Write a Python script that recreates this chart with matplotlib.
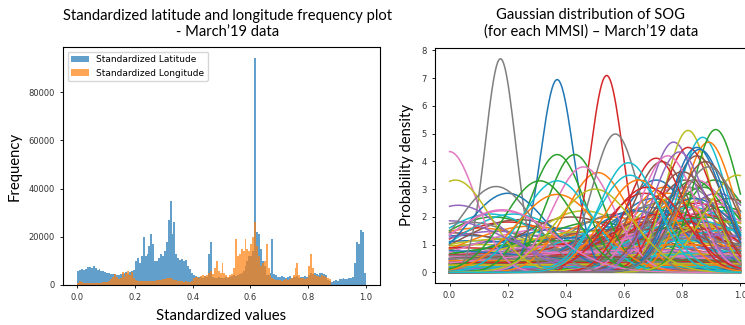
import numpy as np
import matplotlib
matplotlib.use("Agg")
import matplotlib.pyplot as plt

# histogram counts, 150 equal bins on [0, 1]
lat_counts = [
    5800, 6200, 6600, 6400, 6800, 7600, 7400, 7200, 8000, 7000, 6400, 6800, 6000, 5600, 5200,
    5000, 4800, 4600, 4400, 4600, 4200, 4000, 4600, 4400, 5000, 5200, 4600, 5400, 6000, 6400,
    10000, 11000, 9000, 12000, 20000, 12000, 13000, 16000, 21000, 17000, 10000, 10000, 11000, 13000, 12000,
    14000, 18000, 27000, 35000, 21000, 26000, 13000, 11000, 10500, 10800, 10000, 10500, 8000, 6500, 5000,
    4000, 3600, 3400, 3200, 3400, 3000, 3800, 3400, 13000, 18000, 3200, 3000, 2800, 3200, 3000,
    3000, 2800, 3200, 3000, 3400, 3600, 4000, 3800, 4200, 4400, 5000, 6000, 8000, 10000, 12000,
    12000, 14000, 94000, 22000, 21000, 15000, 10000, 8000, 4000, 4200, 5000, 19000, 4500, 4000, 3500,
    3400, 3600, 3200, 3000, 3400, 3600, 3000, 3200, 3400, 3600, 3000, 3200, 3400, 3600, 3200,
    4000, 5000, 4400, 4800, 4600, 4200, 4800, 5000, 4400, 4200, 2000, 1500, 1400, 1600, 2000,
    1800, 2400, 2600, 2800, 2400, 2600, 2800, 3000, 3200, 9000, 18000, 17000, 23000, 22000, 5000,
]
lon_counts = [
    800, 1500, 1200, 1000, 900, 800, 900, 1000, 800, 900, 1000, 900, 1000, 1100, 1200,
    1400, 1800, 2500, 3500, 4500, 3500, 2600, 3000, 5500, 3500, 5000, 6000, 4000, 5500, 3000,
    2000, 1800, 1600, 1500, 1600, 1800, 1700, 1600, 1500, 1600, 1800, 2000, 2200, 2000, 2400,
    2600, 2800, 3000, 2800, 2400, 2200, 2000, 1800, 1600, 1500, 1400, 1500, 1400, 1300, 1500,
    3000, 3200, 3400, 3000, 3600, 4000, 3800, 4200, 5000, 6000, 4500, 7000, 10000, 6000, 5000,
    9000, 5000, 4000, 3500, 4000, 4500, 7000, 19000, 12000, 13000, 15000, 14000, 19000, 15000, 14000,
    17000, 20000, 26000, 16000, 12000, 8000, 9000, 10000, 17000, 7000, 4000, 3000, 2500, 2200, 2000,
    2000, 1800, 2200, 2500, 2000, 2400, 3000, 4000, 7000, 9000, 4000, 3000, 2800, 2600, 3000,
    8000, 13000, 7000, 4000, 3600, 3800, 3500, 4000, 3600, 3400, 3000, 2500, 0, 0, 0,
    0, 0, 0, 0, 0, 0, 0, 0, 0, 0, 0, 0, 0, 0, 0,
]

# gaussian fits of SOG per MMSI: means and std devs
sog_mu = [
    0.05, 0.10, 0.15, 0.20, 0.25, 0.00, 0.18, 0.30, 0.12, 0.22,
    0.08, 0.28, 0.35, 0.02, 0.16, 0.24, 0.32, 0.06, 0.20, 0.14,
    0.40, 0.45, 0.50, 0.55, 0.48, 0.42, 0.58, 0.52, 0.46, 0.60,
    0.44, 0.56, 0.38, 0.62, 0.50, 0.54, 0.40, 0.58, 0.47, 0.65,
    0.70, 0.75, 0.80, 0.85, 0.90, 0.72, 0.78, 0.82, 0.88, 0.95,
    0.68, 0.74, 0.84, 0.86, 0.92, 0.76, 0.80, 0.66, 0.98, 0.83,
    0.71, 0.79, 0.87, 0.93, 0.69, 0.81, 0.89, 0.77, 0.73, 1.00,
    0.85, 0.75, 0.91, 0.67, 0.83, 0.96, 0.79, 0.72, 0.88, 0.81,
    0.84, 0.70, 0.94, 0.78, 0.86, 0.74, 0.90, 0.82, 0.76, 0.97,
    0.64, 0.80, 0.87, 0.73, 0.92, 0.68, 0.85, 0.78, 0.95, 0.83,
    0.50, 0.30, 0.70, 0.20, 0.90, 0.60, 0.40, 0.10, 0.80, 1.10,
    -0.10, 0.50, 0.75, 0.25, 0.95, 0.35, 0.65, 0.05, 0.85, 0.45,
    0.37, 0.51, 0.37, 0.54, 0.77, 0.73, 0.00, 0.175, 0.82, 0.87,
    0.20, 0.89, 0.43, 0.82, 0.03, 0.85, 0.46, 0.57, 0.02, 0.37,
    0.85, 0.37, 0.915, 0.71, 0.00, 0.80, 0.75, 0.16, 0.99, 0.62,
    0.86, 0.65, 0.31, 0.68, 0.79, 0.88, 0.18, 0.89, 0.50, 0.615,
]
sog_sigma = [
    0.30, 0.25, 0.20, 0.22, 0.35, 0.28, 0.18, 0.30, 0.40, 0.19,
    0.35, 0.24, 0.40, 0.45, 0.27, 0.21, 0.26, 0.22, 0.33, 0.19,
    0.25, 0.30, 0.22, 0.35, 0.40, 0.20, 0.28, 0.45, 0.18, 0.24,
    0.32, 0.20, 0.35, 0.30, 0.50, 0.26, 0.42, 0.19, 0.27, 0.40,
    0.15, 0.18, 0.14, 0.16, 0.20, 0.22, 0.13, 0.25, 0.15, 0.18,
    0.17, 0.13, 0.12, 0.19, 0.14, 0.28, 0.20, 0.24, 0.22, 0.17,
    0.12, 0.16, 0.13, 0.25, 0.30, 0.12, 0.18, 0.21, 0.35, 0.30,
    0.22, 0.14, 0.12, 0.14, 0.30, 0.15, 0.26, 0.16, 0.24, 0.35,
    0.15, 0.20, 0.17, 0.19, 0.28, 0.25, 0.16, 0.13, 0.15, 0.26,
    0.18, 0.40, 0.20, 0.19, 0.30, 0.22, 0.12, 0.33, 0.22, 0.21,
    0.80, 0.90, 1.00, 0.60, 0.70, 1.20, 0.55, 0.65, 0.60, 0.50,
    0.50, 1.50, 0.90, 1.10, 0.45, 0.70, 0.50, 0.80, 1.30, 2.00,
    0.0574, 0.111, 0.094, 0.0562, 0.085, 0.10, 0.0917, 0.0518, 0.078, 0.082,
    0.14, 0.085, 0.094, 0.0886, 0.165, 0.095, 0.105, 0.080, 0.12, 0.121,
    0.0886, 0.142, 0.0775, 0.097, 0.215, 0.11, 0.095, 0.129, 0.114, 0.114,
    0.09, 0.12, 0.121, 0.13, 0.092, 0.10, 0.177, 0.105, 0.133, 0.101,
]

fig = plt.figure(figsize=(7.45, 3.25), dpi=100)
W, H = 745.0, 325.0
title_font = ["Lato", "DejaVu Sans"]

# left: frequency histogram
ax1 = fig.add_axes([63 / W, 40 / H, 317 / W, 238 / H])
edges = np.linspace(0, 1, len(lat_counts) + 1)
ax1.hist(edges[:-1], bins=edges, weights=lat_counts, alpha=0.7, label="Standardized Latitude")
ax1.hist(edges[:-1], bins=edges, weights=lon_counts, alpha=0.7, label="Standardized Longitude")
ax1.legend(loc="upper left", fontsize=6.5)
ax1.tick_params(labelsize=6, length=2.5, width=0.6, labelcolor="#333333")
ax1.set_ylabel("Frequency", fontsize=10.7, family=title_font, labelpad=5)
ax1.set_xlabel("Standardized values", fontsize=10.7, family=title_font, labelpad=5)
fig.text(228 / W, 1 - 24 / H, "Standardized latitude and longitude frequency plot\n- March\u201919 data",
         ha="center", va="center", fontsize=10.6, family=title_font, linespacing=1.2)

# right: gaussian curves
ax2 = fig.add_axes([435 / W, 42 / H, 320 / W, 235 / H])
x = np.linspace(0, 1, 200)
for mu, s in zip(sog_mu, sog_sigma):
    y = np.exp(-0.5 * ((x - mu) / s) ** 2) / (s * np.sqrt(2 * np.pi))
    ax2.plot(x, y, lw=1.1)
ax2.tick_params(labelsize=6, length=2.5, width=0.6, labelcolor="#333333")
ax2.set_ylabel("Probability density", fontsize=10.7, family=title_font, labelpad=5)
ax2.set_xlabel("SOG standardized", fontsize=10.7, family=title_font, labelpad=5)
fig.text(591 / W, 1 - 23 / H, "Gaussian distribution of SOG\n(for each MMSI) \u2013 March\u201919 data",
         ha="center", va="center", fontsize=10.6, family=title_font, linespacing=1.2)

fig.savefig("out.png", dpi=100)
